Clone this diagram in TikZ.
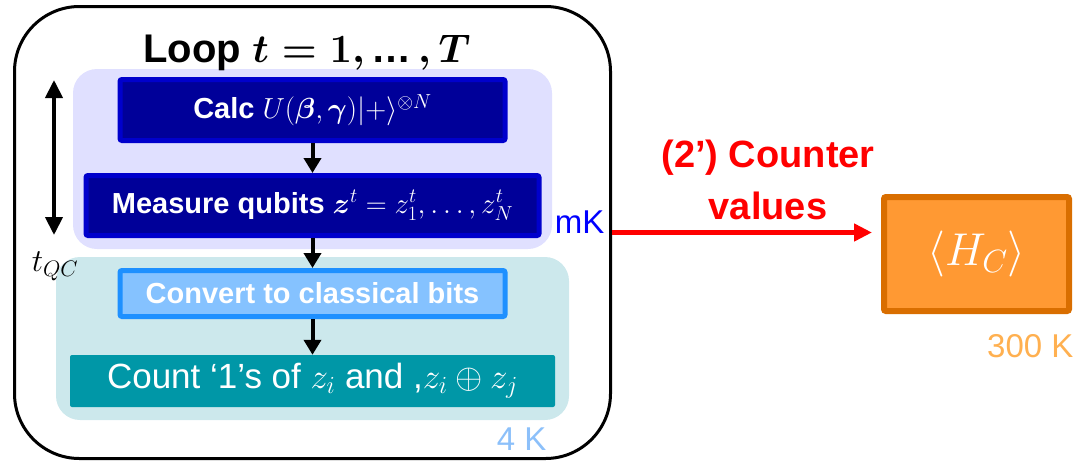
\RequirePackage{fix-cm}
\documentclass[tikz,border=0pt]{standalone}
\usepackage{amsmath}
\usepackage{fontspec}
\setmainfont{Liberation Sans}
\usetikzlibrary{arrows.meta}

\definecolor{navy}{RGB}{0,0,153}
\definecolor{navyedge}{RGB}{0,0,204}
\definecolor{lavender}{RGB}{224,224,255}
\definecolor{paleteal}{RGB}{204,232,236}
\definecolor{skyfill}{RGB}{133,194,255}
\definecolor{skyedge}{RGB}{30,144,255}
\definecolor{tealbox}{RGB}{0,151,167}
\definecolor{orangefill}{RGB}{255,153,51}
\definecolor{orangeedge}{RGB}{217,110,0}
\definecolor{mkblue}{RGB}{0,0,255}
\definecolor{fourk}{RGB}{140,192,250}
\definecolor{roomk}{RGB}{255,176,80}

\begin{document}
\begin{tikzpicture}[x=1pt, y=-1pt, align=center,
  zone/.style={rounded corners=24pt, inner sep=0pt},
  stage/.style={draw=navyedge, fill=navy, line width=5pt, text=white, rounded corners=2pt, inner sep=0pt,
    font=\fontsize{29}{34}\selectfont\bfseries},
  flow/.style={-{Triangle[length=15pt,width=17pt]}, line width=4pt},
  temp/.style={anchor=base east, font=\fontsize{33}{40}\selectfont}]

\useasboundingbox (0,0) rectangle (1086,466);

\node[zone, fill=lavender, minimum width=479pt, minimum height=180pt] (cold) at (312.5, 159) {};
\node[zone, fill=paleteal, minimum width=513pt, minimum height=163pt] (warm) at (312.5, 338.5) {};
\node[draw, line width=3pt, rounded corners=65pt, minimum width=596pt, minimum height=452pt] (loop) at (312.5, 232.5) {};

\node[anchor=base, font=\fontsize{40}{50}\selectfont\bfseries] (title) at (307, 62) {Loop $\boldsymbol{t=1,}\,\text{…}\,\boldsymbol{,T}$};

\node[stage, minimum width=385pt, minimum height=61pt] (calc) at (312.5, 110) {Calc $U(\boldsymbol{\beta},\boldsymbol{\gamma})|{+}\rangle^{\otimes N}$};
\node[stage, minimum width=453pt, minimum height=60pt] (measure) at (312.5, 205.5) {Measure qubits $\boldsymbol{z}^t=z_1^t,\ldots,z_N^t$};
\node[stage, draw=skyedge, fill=skyfill, minimum width=385pt, minimum height=46pt] (convert) at (312.5, 293.5) {Convert to classical bits};
\node[fill=tealbox, text=white, rounded corners=2pt, inner sep=0pt, minimum width=485pt, minimum height=52pt,
  font=\fontsize{35}{40}\selectfont] (count) at (312.5, 381) {Count ‘1’s of $z_i$ and ,$z_i\oplus z_j$};

\node[draw=orangeedge, fill=orangefill, line width=6pt, rounded corners=2pt, inner sep=0pt, text=white,
  minimum width=185pt, minimum height=114pt, font=\fontsize{46}{52}\selectfont] (hc) at (976.5, 254) {$\langle H_C\rangle$};

\node[temp, text=mkblue] (mk) at (608, 233) {mK};
\node[temp, text=fourk] (fourklabel) at (550, 450) {4 K};
\node[temp, text=roomk] (roomklabel) at (1077, 357) {300 K};

\node[font=\fontsize{32}{36}\selectfont] (tqc) at (55, 266) {$t_{QC}$};
\node[text=red, font=\fontsize{38}{52}\selectfont\bfseries] (counter) at (768, 180) {(2’) Counter\\values};

\coordinate (qctop) at (54, 80);
\coordinate (qcbot) at (54, 235);
\coordinate (hcin) at (872, 232.5);

\draw[flow] (calc) -- (measure);
\draw[flow] (measure) -- (convert);
\draw[flow] (convert) -- (count);
\draw[{Triangle[length=18pt,width=17pt]}-{Triangle[length=18pt,width=17pt]}, line width=4pt] (qctop) -- (qcbot);
\draw[-{Triangle[length=18pt,width=17pt]}, red, line width=5pt] (loop.east) -- (hcin);

\end{tikzpicture}
\end{document}
